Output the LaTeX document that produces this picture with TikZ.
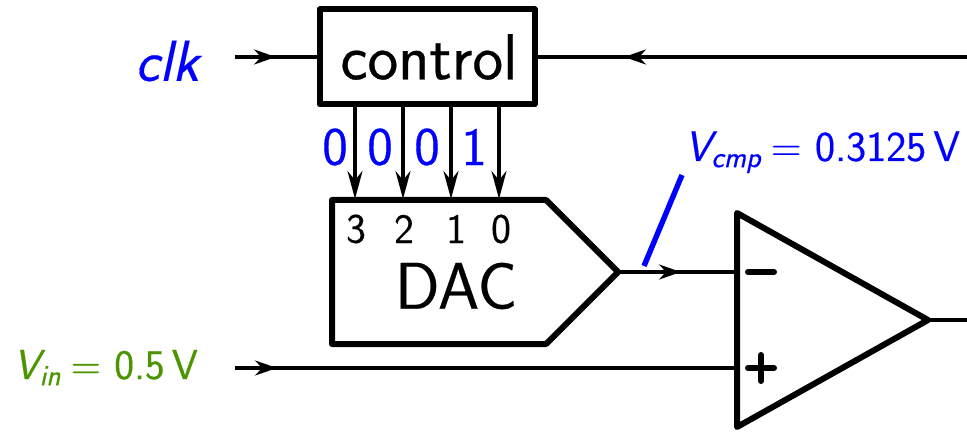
\documentclass[tikz,border=0pt]{standalone}
\usepackage{amsmath}
\usepackage{fontspec}
\setsansfont{Latin Modern Sans}[FakeBold=0.35]
\usepackage{tikz}
\usetikzlibrary{arrows.meta,positioning}
\definecolor{sigblue}{rgb}{0.0, 0.0, 1.0}
\definecolor{siggreen}{rgb}{0.3, 0.58, 0.0}
\newcommand{\pxfont}[1]{\fontsize{#1}{#1}\selectfont\sffamily}
\begin{document}
\begin{tikzpicture}[
		x=0.5pt, y=-0.5pt,
		wire/.style={line width=1.7pt},
		flowArrow/.style={wire, -{Stealth[length=11pt,width=7.5pt]}},
		bitArrow/.style={wire, -{Stealth[length=14pt,width=7.5pt]}},
		block/.style={line width=3pt, line join=round},
		signLine/.style={line width=3pt, line cap=round},
		formal/.style={inner sep=0pt, outer sep=0pt}]
		
		\useasboundingbox (0,0) rectangle (967,432);
		
		\node [formal, block, draw, minimum width=107.5pt, minimum height=47.5pt, font=\pxfont{32.5}] (control) at (427,57) {\hspace*{2pt}control};
		
		\coordinate (dacA) at (332,200);
		\coordinate (dacB) at (546,200);
		\coordinate (dacTip) at (618,272);
		\coordinate (dacC) at (546,344);
		\coordinate (dacD) at (332,344);
		\draw [block] (dacA) -- (dacB) -- (dacTip) -- (dacC) -- (dacD) -- cycle;
		\node [formal, font=\pxfont{33}] (dac) at (456,286) {DAC};
		
		\coordinate (cmpTop) at (737,213);
		\coordinate (cmpTip) at (928,320);
		\coordinate (cmpBot) at (737,427);
		\draw [block] (cmpTop) -- (cmpTip) -- (cmpBot) -- cycle;
		
		% bit lines
		\foreach \x/\n/\lx/\b/\nx in {355/3/356/0/335, 403/2/404/0/380, 451/1/456/0/427, 499/0/501/1/474}
		{
			\coordinate (bit\n) at (\x,199);
			\draw [bitArrow] (control.south -| bit\n) -- (bit\n);
			\node [formal, font=\pxfont{21}] (in\n) at (\lx,229) {\n};
			\node [formal, font=\pxfont{27}, text=sigblue] (val\n) at (\nx,147) {\b};
		}
		
		% clock input
		\node [formal, font=\pxfont{29}\itshape, text=sigblue] (clk) at (167,61) {clk};
		\coordinate (clkStart) at (235,57);
		\coordinate (clkMid) at (276,57);
		\draw [flowArrow] (clkStart) -- (clkMid);
		\draw [wire] (clkStart) -- (control.west |- clkStart);
		
		% feedback
		\coordinate (fbStart) at (967,57);
		\coordinate (fbMid) at (624,57);
		\draw [flowArrow] (fbStart) -- (fbMid);
		\draw [wire] (fbStart) -- (control.east |- fbStart);
		
		% dac output
		\coordinate (cmpMinus) at (737,272);
		\coordinate (outMid) at (681,272);
		\draw [flowArrow] (dacTip) -- (outMid);
		\draw [wire] (dacTip) -- (cmpMinus);
		
		% analog input
		\node [formal, font=\pxfont{21}, text=siggreen, anchor=base east] (vin) at (198,379) {$\textit{V}_{\textit{in}}\text{\hspace{-0.1em} = 0.5\,V}$};
		\coordinate (vinStart) at (235,368);
		\coordinate (vinMid) at (277,368);
		\coordinate (cmpPlus) at (737,368);
		\draw [flowArrow] (vinStart) -- (vinMid);
		\draw [wire] (vinStart) -- (cmpPlus);
		
		% comparator output
		\coordinate (cmpOut) at (967,320);
		\draw [wire] (cmpTip) -- (cmpOut);
		
		% signs
		\coordinate (minusL) at (748,272);
		\coordinate (minusR) at (774,272);
		\coordinate (plusL) at (748,368);
		\coordinate (plusR) at (774,368);
		\coordinate (plusT) at (761,355);
		\coordinate (plusB) at (761,381);
		\draw [signLine] (minusL) -- (minusR);
		\draw [signLine] (plusL) -- (plusR);
		\draw [signLine] (plusT) -- (plusB);
		
		% compare voltage
		\coordinate (slashT) at (682,175);
		\coordinate (slashB) at (644,266);
		\draw [line width=2.7pt, color=sigblue] (slashT) -- (slashB);
		\node [formal, font=\pxfont{21.3}, text=sigblue, anchor=base east] (vcmp) at (960,161) {$\textit{V}_{\textit{cmp}}\text{\hspace{-0.1em} = 0.3125\,V}$};
	\end{tikzpicture}
\end{document}
